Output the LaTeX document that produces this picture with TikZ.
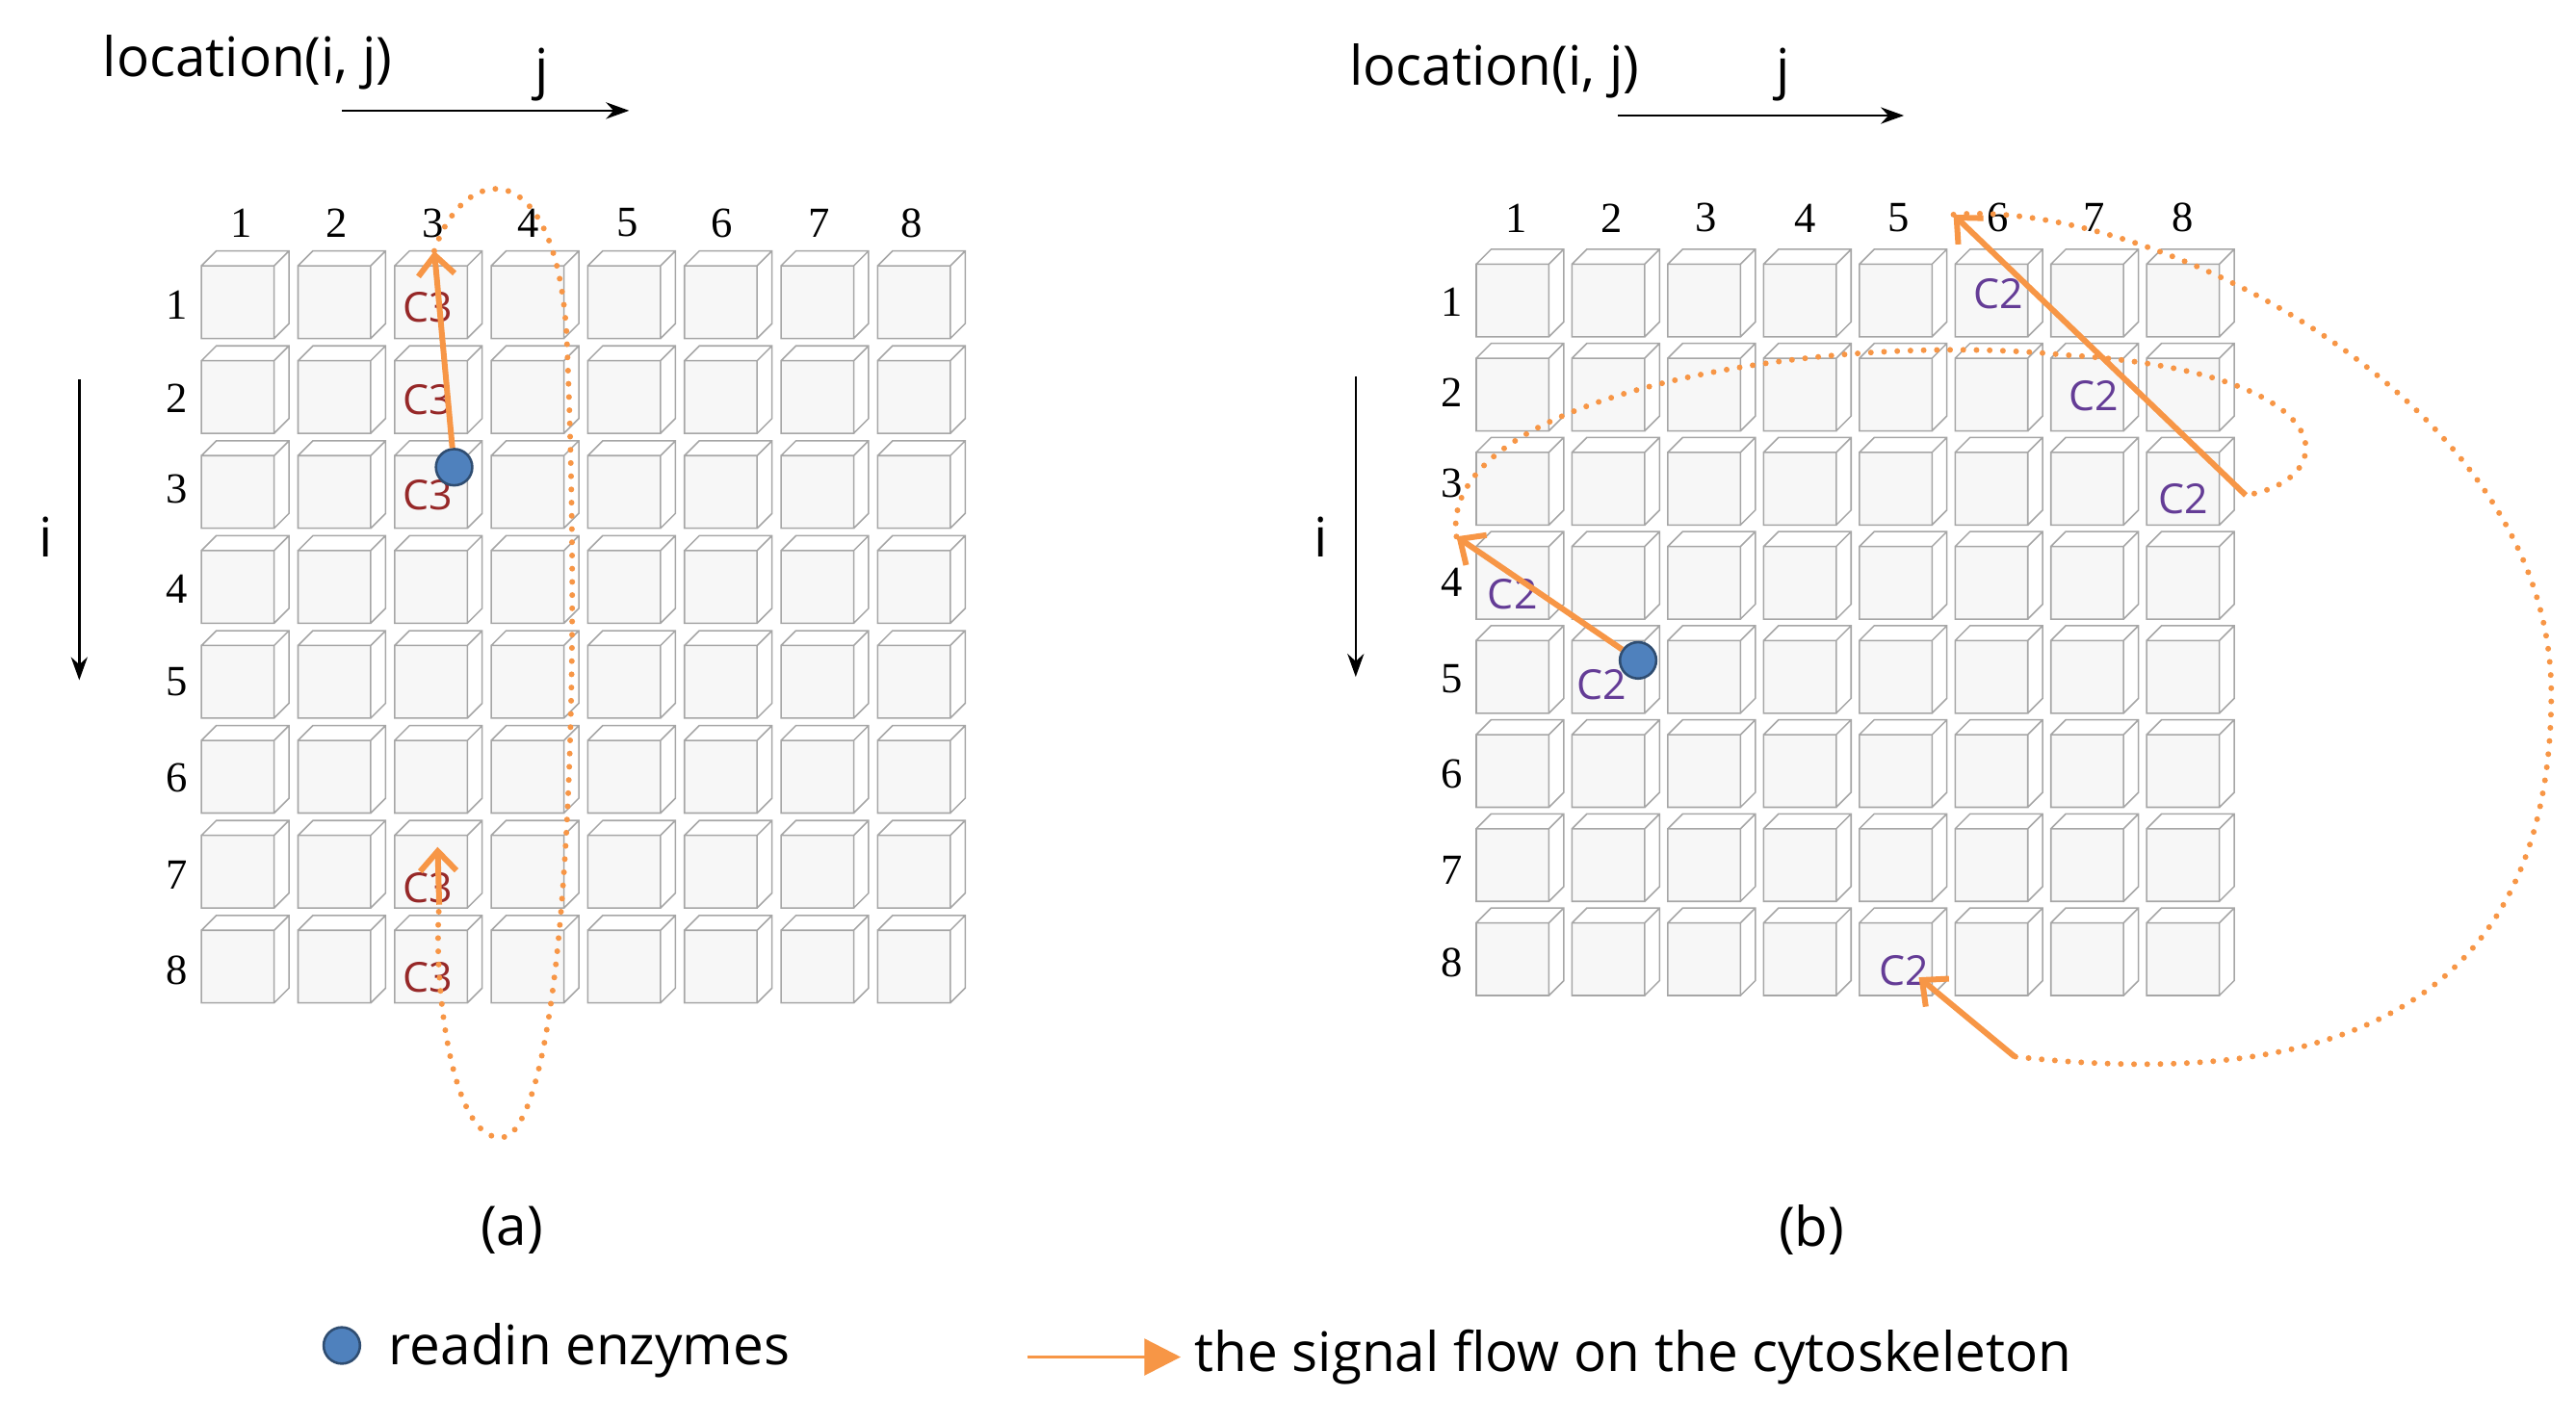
\documentclass[tikz,border=0pt]{standalone}
\usepackage{fontspec}
\setmainfont{Liberation Serif}
\newfontfamily\sans{Open Sans}
\usetikzlibrary{arrows.meta}
\definecolor{org}{RGB}{247,150,70}
\definecolor{dot}{RGB}{79,129,189}
\definecolor{cthree}{RGB}{150,40,40}
\definecolor{ctwo}{RGB}{100,60,150}
\tikzset{
  num/.style={font=\fontsize{26}{30}\selectfont},
  lab/.style={font=\sans\fontsize{33}{38}\selectfont},
  cl/.style={font=\sans\fontsize{25}{28}\selectfont},
  flow/.style={org,line width=3.5pt,-{Straight Barb[length=12pt,width=22pt,line width=3.5pt]}},
  dots/.style={org,line width=3.5pt,dash pattern=on 0pt off 8pt,line cap=round},
  enz/.style={circle,fill=dot,draw=dot!60!black,line width=1.5pt,minimum size=22pt,inner sep=0pt},
  ax/.style={black,line width=1.5pt,-{Stealth[length=14pt,width=10pt]}}
}
\newcommand{\cube}[2]{%
  \fill[gray!6] (#1,#2) rectangle ++(44,44);
  \draw[gray!70,line width=0.9pt] (#1,#2) rectangle ++(44,44)
   (#1,#2) -- ++(9,-9) -- ++(44,0) -- ++(0,44) -- ++(-9,9)
   (#1+44,#2) -- ++(9,-9);}
\begin{document}
\begin{tikzpicture}[x=1pt,y=-1pt]
\useasboundingbox (0,0) rectangle (1560,861);
% grids
\foreach \i in {1,...,8}{\foreach \j in {1,...,8}{
  \pgfmathsetmacro\xa{122+(\j-1)*58.5}
  \pgfmathsetmacro\ya{161+(\i-1)*57.5}
  \pgfmathsetmacro\xb{894+(\j-1)*58}
  \pgfmathsetmacro\yb{160+(\i-1)*57}
  \cube{\xa}{\ya}
  \cube{\xb}{\yb}}}
\foreach \k/\xa/\ya/\xb/\yb in {1/146/185/918/183,2/204/241/976/238,3/262/296/1033/293,4/320/357/1093/353,5/380/413/1150/411,6/437/471/1210/469,7/496/530/1268/527,8/552/588/1322/583}{
  \node[num] (ca\k) at (\xa,135) {\k};
  \node[num] (ra\k) at (107,\ya) {\k};
  \node[num] (cb\k) at (\xb,132) {\k};
  \node[num] (rb\k) at (879,\yb) {\k};}
% axes
\node[lab] (loca) at (150,38) {location(i, j)};
\node[lab] (locb) at (905,43) {location(i, j)};
\coordinate (ja1) at (207,67); \coordinate (ja2) at (381,67);
\coordinate (jb1) at (980,70); \coordinate (jb2) at (1153,70);
\draw[ax] (ja1) -- (ja2); \draw[ax] (jb1) -- (jb2);
\node[lab] (jla) at (328,45) {j}; \node[lab] (jlb) at (1080,45) {j};
\coordinate (ia1) at (48,230); \coordinate (ia2) at (48,412);
\coordinate (ib1) at (821,228); \coordinate (ib2) at (821,410);
\draw[ax] (ia1) -- (ia2); \draw[ax] (ib1) -- (ib2);
\node[lab] (ila) at (28,325) {i}; \node[lab] (ilb) at (800,325) {i};
% C labels
\foreach \n/\y in {1/186,2/242,3/300,7/538,8/592}{\node[cl,text=cthree] (c3\n) at (259,\y) {C3};}
\foreach \n/\x/\y in {a/1210/178,b/1268/240,c/1322/302,d/916/360,e/970/415,f/1153/588}{\node[cl,text=ctwo] (c2\n) at (\x,\y) {C2};}
% flows (a)
\node[enz] (ea) at (275,283) {};
\coordinate (ta) at (263,152);
\coordinate (tb) at (265,513);
\coordinate (tc) at (266,548);
\draw[dots] (ta) .. controls (280,100) and (335,90) .. (343,200) .. controls (352,400) and (345,660) .. (308,688) .. controls (275,700) and (262,600) .. (tc);
\draw[flow] (ea) -- (ta);
\draw[flow] (tc) -- (tb);
% flows (b)
\node[enz] (eb) at (992,400) {};
\coordinate (p1) at (882,325);
\coordinate (p2) at (1360,300);
\coordinate (p3) at (1183,130);
\coordinate (p4) at (1220,640);
\coordinate (p5) at (1162,592);
\draw[dots] (p1) .. controls (870,240) and (1100,200) .. (1250,215) .. controls (1420,225) and (1420,290) .. (p2);
\draw[dots] (p3) .. controls (1300,120) and (1545,240) .. (1545,420) .. controls (1545,620) and (1400,660) .. (p4);
\draw[flow] (eb) -- (p1);
\draw[flow] (p2) -- (p3);
\draw[flow] (p4) -- (p5);
% captions
\node[lab] (capa) at (310,745) {(a)};
\node[lab] (capb) at (1097,745) {(b)};
% legend
\node[enz] (le) at (207,815) {};
\node[lab,anchor=west] (lt1) at (232,818) {readin enzymes};
\coordinate (la1) at (622,822); \coordinate (la2) at (715,822);
\draw[org,line width=2pt,-{Triangle[length=22pt,width=22pt]}] (la1) -- (la2);
\node[lab,anchor=west] (lt2) at (720,822) {the signal flow on the cytoskeleton};
\end{tikzpicture}
\end{document}
